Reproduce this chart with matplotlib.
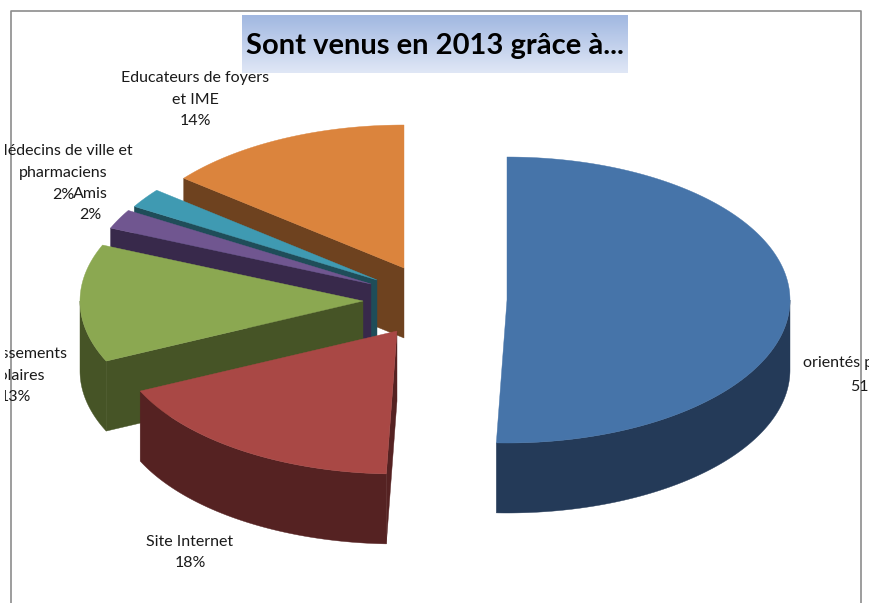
import numpy as np
import matplotlib
matplotlib.use("Agg")
import matplotlib.pyplot as plt

# values, labels show them rounded
names = ["orientés par des", "Site Internet", "Etablissements\nscolaires", "Amis",
         "Médecins de ville et\npharmaciens", "Educateurs de foyers\net IME"]
values = [50.6, 17.5, 13.3, 2.2, 2.2, 14.2]
top_colors = ["#4674A9", "#A94845", "#8BA851", "#705690", "#3F9AB2", "#DB843D"]
side_colors = ["#243A58", "#552222", "#465426", "#38294B", "#1F4D59", "#6E421F"]
# apex of each exploded slice, in pixels
centers = [(507, 300), (397, 331), (363, 301), (371, 284), (377, 280), (404, 268)]
label_pos = [None, (190, 552.5), (15, 375.5), (90, 204.5), (63, 173), (195, 99.5)]

rx, ry, depth = 283, 143, 70
font = dict(family="Lato", fontsize=11.5, color="#1A1A1A", zorder=9)

fig = plt.figure(figsize=(8.7, 6.03), dpi=100)
ax = fig.add_axes([0, 0, 1, 1])
ax.set_axis_off()

# title gradient
grad = np.linspace(0, 1, 64).reshape(-1, 1)
cmap = matplotlib.colors.LinearSegmentedColormap.from_list("t", ["#A1B8E1", "#E0E7F6"])
ax.imshow(grad, cmap=cmap, extent=[242, 628, 73, 15], aspect="auto", zorder=1)
ax.set_xlim(0, 870)
ax.set_ylim(603, 0)

# chart frame
ax.plot([11, 11, 861.5, 861.5], [603, 10.5, 10.5, 603], color="#8C8C8C", lw=1.2, zorder=0)


def rim(c, a, b):
    t = np.radians(np.linspace(a, b, max(int(abs(b - a)) * 2, 2)))
    return c[0] + rx * np.sin(t), c[1] - ry * np.cos(t)


edges = np.concatenate([[0], np.cumsum(values) * 3.6])
edges[-1] = 360

# back slices first
for i in [5, 4, 3, 2, 1, 0]:
    c = centers[i]
    a, b = edges[i], edges[i + 1]
    if i > 0:
        # cut face on the start side
        x0, y0 = rim(c, a, a)
        ax.fill([c[0], x0[0], x0[0], c[0]], [c[1], y0[0], y0[0] + depth, c[1] + depth],
                color=side_colors[i], lw=0.3, zorder=2 + (5 - i))
    if a < 270 and b > 90:
        # outer wall, only the front half shows
        x, y = rim(c, max(a, 90), min(b, 270))
        ax.fill(np.r_[x, x[::-1]], np.r_[y, y[::-1] + depth],
                color=side_colors[i], lw=0.3, zorder=2 + (5 - i))
    x, y = rim(c, a, b)
    ax.fill(np.r_[c[0], x], np.r_[c[1], y], color=top_colors[i], lw=0.3, zorder=2 + (5 - i))

# labels
for i in range(1, len(values)):
    ax.text(label_pos[i][0], label_pos[i][1], f"{names[i]}\n{values[i]:.0f}%", ha="center", va="center",
            linespacing=1.72, **font)

# this one runs off the right edge, lines start at their own x
ax.text(803, 363, names[0], ha="left", va="center", **font)
ax.text(850, 387, f"{values[0]:.0f}%", ha="left", va="center", **font)

# the left labels are cut a little inside the picture edge
ax.fill([0, 5, 5, 0], [0, 0, 603, 603], color="white", lw=0, zorder=9.5)

ax.text(435, 46, "Sont venus en 2013 grâce à...", ha="center", va="center",
        family="Lato", fontweight="bold", fontsize=21, color="black", zorder=10)

fig.savefig("out.png", dpi=100)
